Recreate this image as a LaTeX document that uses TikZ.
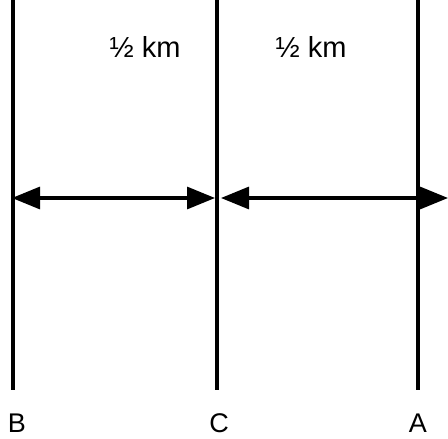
\documentclass[tikz,border=0pt]{standalone}
\usepackage{fontspec}
\setmainfont{Liberation Sans}
\usetikzlibrary{arrows.meta}
\begin{document}
\begin{tikzpicture}[x=1pt,y=-1pt,
  vline/.style={line width=3.2pt},
  dim/.style={line width=3.2pt,{Triangle[length=28pt,width=22pt]}-{Triangle[length=28pt,width=22pt]}},
  lbl/.style={font=\fontsize{27}{30}\selectfont, inner sep=0pt},
  dist/.style={font=\fontsize{29}{32}\selectfont, inner sep=0pt}]
\useasboundingbox (0,0) rectangle (448,439);
\coordinate (Btop) at (13,0);
\coordinate (Bbot) at (13,390);
\coordinate (Ctop) at (217,0);
\coordinate (Cbot) at (217,390);
\coordinate (Atop) at (418,0);
\coordinate (Abot) at (418,390);
\draw[vline] (Btop) -- (Bbot);
\draw[vline] (Ctop) -- (Cbot);
\draw[vline] (Atop) -- (Abot);
\coordinate (b1) at (12,198);
\coordinate (c1) at (215,198);
\coordinate (c2) at (221,198);
\coordinate (a2) at (448,198);
\draw[dim] (b1) -- (c1);
\draw[dim] (c2) -- (a2);
\node[dist, anchor=base] (d1) at (145,57) {½ km};
\node[dist, anchor=base] (d2) at (311,57) {½ km};
\node[lbl, anchor=base] (B) at (17,432) {B};
\node[lbl, anchor=base] (C) at (219,432) {C};
\node[lbl, anchor=base] (A) at (418,432) {A};
\end{tikzpicture}
\end{document}
